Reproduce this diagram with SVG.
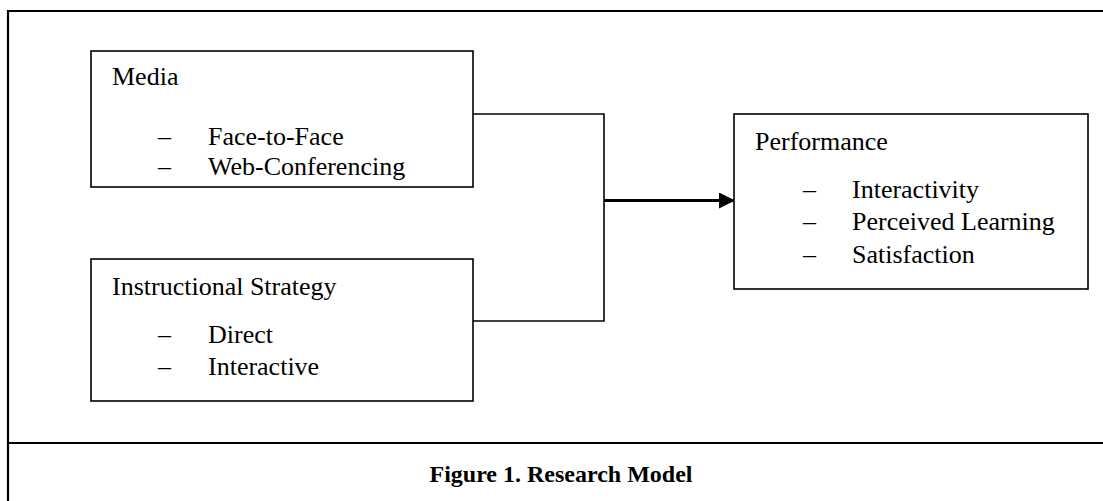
<svg xmlns="http://www.w3.org/2000/svg" width="1103" height="501" viewBox="0 0 1103 501">
<style>
.frame{fill:none;stroke:#000;stroke-width:2.2}
.box{fill:#fff;stroke:#000;stroke-width:1.6}
.conn{fill:none;stroke:#000;stroke-width:1.6}
text{font-family:"Liberation Serif","Times New Roman",serif;font-size:26px;fill:#000}
.cap{font-weight:bold;font-size:24px}
</style>
<defs>
<marker id="ah" markerUnits="userSpaceOnUse" markerWidth="16" markerHeight="16" viewBox="0 0 16 16" refX="16" refY="8" orient="auto">
<path d="M0,0 L16,8 L0,16 Z" fill="#000"/>
</marker>
</defs>
<g id="frame">
<path class="frame" d="M1103,11 H8 V501 M8,443 H1103"/>
</g>
<g id="connectors">
<path class="conn" d="M473,114 H604 V321 H473"/>
<line x1="604" y1="200.5" x2="735" y2="200.5" stroke="#000" stroke-width="3.2" marker-end="url(#ah)"/>
</g>
<g id="media">
<rect class="box" x="91" y="51" width="382" height="136"/>
<text x="112" y="85">Media</text>
<text x="158" y="145">–</text><text x="208" y="145">Face-to-Face</text>
<text x="158" y="175">–</text><text x="208" y="175">Web-Conferencing</text>
</g>
<g id="strategy">
<rect class="box" x="91" y="259" width="382" height="142"/>
<text x="112" y="295">Instructional Strategy</text>
<text x="158" y="343">–</text><text x="208" y="343">Direct</text>
<text x="158" y="375">–</text><text x="208" y="375">Interactive</text>
</g>
<g id="performance">
<rect class="box" x="734" y="114" width="354" height="175"/>
<text x="755" y="150">Performance</text>
<text x="803" y="198">–</text><text x="852" y="198">Interactivity</text>
<text x="803" y="230">–</text><text x="852" y="230">Perceived Learning</text>
<text x="803" y="263">–</text><text x="852" y="263">Satisfaction</text>
</g>
<g id="caption">
<text class="cap" x="561" y="482" text-anchor="middle">Figure 1. Research Model</text>
</g>
</svg>
